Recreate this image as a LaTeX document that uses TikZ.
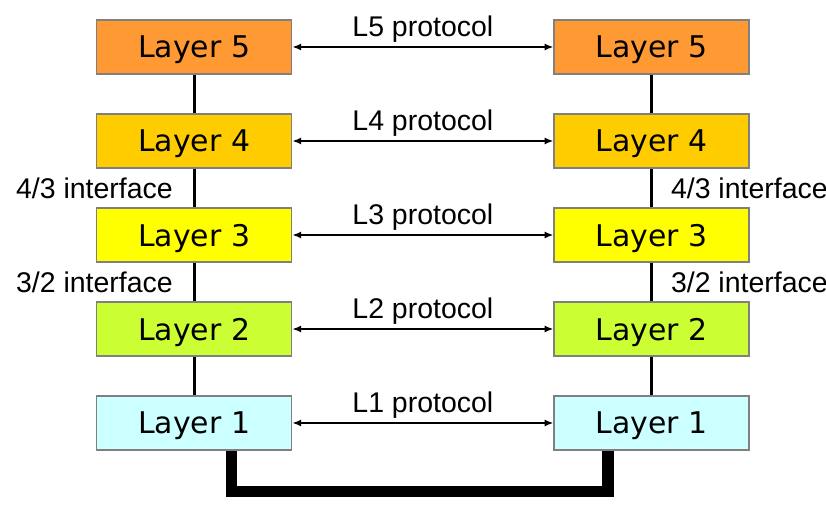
\documentclass[tikz,border=0pt]{standalone}
\usepackage{fontspec}
\setmainfont{Liberation Sans}
\newfontfamily\layerfont{DejaVu Sans}
\usetikzlibrary{arrows.meta}

\definecolor{fiveorange}{HTML}{FF9933}
\definecolor{fourgold}{HTML}{FFCC00}
\definecolor{threeyellow}{HTML}{FFFF00}
\definecolor{twolime}{HTML}{CCFF33}
\definecolor{onecyan}{HTML}{CCFFFF}

\tikzset{
  layer/.style={draw=gray, line width=0.6pt, minimum width=3.9cm, minimum height=1.08cm,
    inner sep=0pt, text depth=0pt, font=\layerfont\fontsize{17}{20}\selectfont},
  proto/.style={line width=1pt, {Latex[length=5pt,width=4pt]}-{Latex[length=5pt,width=4pt]}},
  link/.style={line width=1.7pt},
  bus/.style={line width=6.3pt, line join=miter},
  lbl/.style={font=\fontsize{16.2}{19}\selectfont, inner sep=0pt}
}

\begin{document}
\begin{tikzpicture}
      \useasboundingbox (0,0) rectangle (16.52,10.28);
      % sender stack
      \node[layer, fill=fiveorange] (a5) at (3.885,9.34) {Layer 5};
      \node[layer, fill=fourgold] (a4) at (3.885,7.46) {Layer 4};
      \node[layer, fill=threeyellow] (a3) at (3.885,5.58) {Layer 3};
      \node[layer, fill=twolime] (a2) at (3.885,3.70) {Layer 2};
      \node[layer, fill=onecyan] (a1) at (3.885,1.82) {Layer 1};
      % receiver stack
      \node[layer, fill=fiveorange] (b5) at (13.03,9.34) {Layer 5};
      \node[layer, fill=fourgold] (b4) at (13.03,7.46) {Layer 4};
      \node[layer, fill=threeyellow] (b3) at (13.03,5.58) {Layer 3};
      \node[layer, fill=twolime] (b2) at (13.03,3.70) {Layer 2};
      \node[layer, fill=onecyan] (b1) at (13.03,1.82) {Layer 1};
      % peer protocols
      \draw[proto] (a5) -- node[lbl, above=2pt] {L5 protocol} (b5);
      \draw[proto] (a4) -- node[lbl, above=2pt] {L4 protocol} (b4);
      \draw[proto] (a3) -- node[lbl, above=2pt] {L3 protocol} (b3);
      \draw[proto] (a2) -- node[lbl, above=2pt] {L2 protocol} (b2);
      \draw[proto] (a1) -- node[lbl, above=2pt] {L1 protocol} (b1);
      % interfaces
      \draw[link] (a5) -- (a4);
      \draw[link] (a4) -- node[lbl, left=0.4cm] {4/3 interface} (a3);
      \draw[link] (a3) -- node[lbl, left=0.4cm] {3/2 interface} (a2);
      \draw[link] (a2) -- (a1);
      \draw[link] (b5) -- (b4);
      \draw[link] (b4) -- node[lbl, right=0.36cm] {4/3 interface} (b3);
      \draw[link] (b3) -- node[lbl, right=0.36cm] {3/2 interface} (b2);
      \draw[link] (b2) -- (b1);
      % physical medium
      \coordinate (pa) at ([xshift=0.75cm]a1.south);
      \coordinate (pb) at ([xshift=-0.87cm]b1.south);
      \coordinate (floor) at (0,0.45);
      \draw[bus] (pa) -- (pa |- floor) -- (pb |- floor) -- (pb);
    \end{tikzpicture}
\end{document}
